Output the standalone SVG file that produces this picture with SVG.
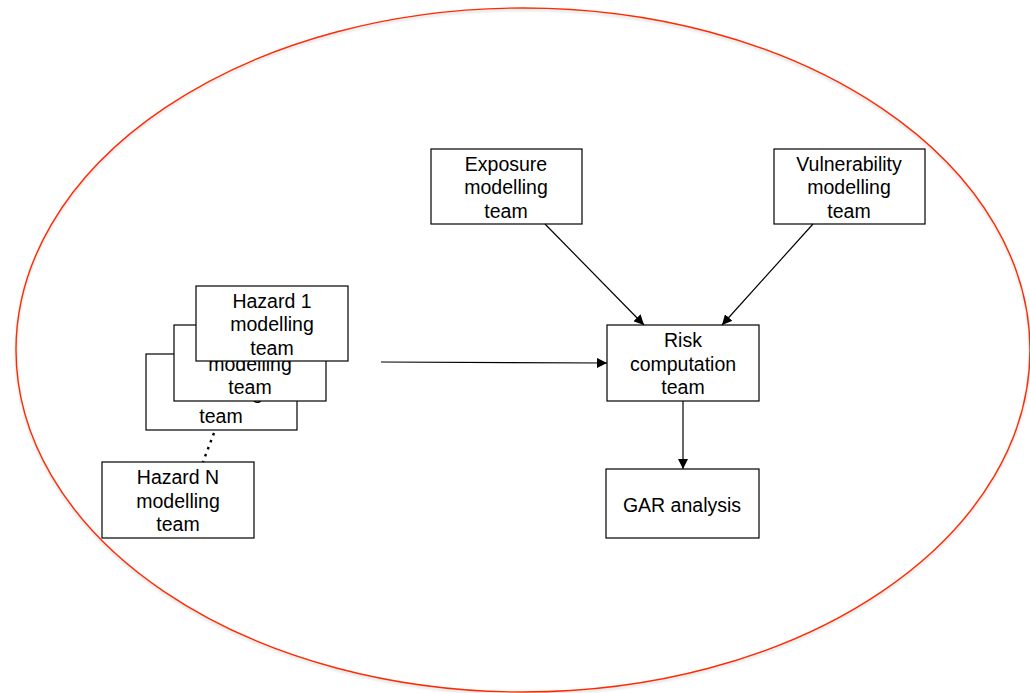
<svg xmlns="http://www.w3.org/2000/svg" width="1030" height="693" viewBox="0 0 1030 693">
  <defs>
    <marker id="arrow" viewBox="0 0 10 10" refX="10" refY="5" markerWidth="10" markerHeight="10" markerUnits="userSpaceOnUse" orient="auto">
      <path d="M0,0 L10,5 L0,10 Z" fill="#000"/>
    </marker>
    <filter id="soft" x="-5%" y="-5%" width="110%" height="110%">
      <feGaussianBlur stdDeviation="1.2"/>
    </filter>
    <style>
      .box { fill: #fff; stroke: #000; stroke-width: 1.2; }
      .lbl { font-family: "Liberation Sans", Arial, sans-serif; font-size: 19.5px; fill: #000; text-anchor: middle; }
      .edge { fill: none; stroke: #000; stroke-width: 1.2; marker-end: url(#arrow); }
      .dots { fill: none; stroke: #000; stroke-width: 2.4; stroke-dasharray: 2.5 5; }
    </style>
  </defs>

  <rect width="1030" height="693" fill="#fff"/>

  <!-- boundary ellipse with faint shadow -->
  <ellipse cx="523" cy="352" rx="507" ry="342" fill="none" stroke="#000" stroke-opacity="0.12" stroke-width="2" filter="url(#soft)"/>
  <ellipse cx="523" cy="350" rx="507" ry="342" fill="none" stroke="#ff2a00" stroke-width="1.4"/>

  <!-- stacked hazard boxes (back to front) -->
  <g id="hazard3">
    <rect class="box" x="146" y="354" width="151" height="76"/>
    <text class="lbl" x="221" y="376">Hazard 3</text>
    <text class="lbl" x="221" y="399">modelling</text>
    <text class="lbl" x="221" y="423">team</text>
  </g>
  <g id="hazard2">
    <rect class="box" x="174" y="325" width="152" height="76"/>
    <text class="lbl" x="250" y="347">Hazard 2</text>
    <text class="lbl" x="250" y="371">modelling</text>
    <text class="lbl" x="250" y="394">team</text>
  </g>
  <g id="hazard1">
    <rect class="box" x="196" y="286" width="152" height="75"/>
    <text class="lbl" x="272" y="308">Hazard 1</text>
    <text class="lbl" x="272" y="331">modelling</text>
    <text class="lbl" x="272" y="355">team</text>
  </g>
  <g id="hazardN">
    <rect class="box" x="102" y="462" width="152" height="76"/>
    <text class="lbl" x="178" y="484">Hazard N</text>
    <text class="lbl" x="178" y="508">modelling</text>
    <text class="lbl" x="178" y="531">team</text>
  </g>

  <g id="exposure">
    <rect class="box" x="431" y="149" width="151" height="75"/>
    <text class="lbl" x="506" y="171">Exposure</text>
    <text class="lbl" x="506" y="194">modelling</text>
    <text class="lbl" x="506" y="218">team</text>
  </g>
  <g id="vulnerability">
    <rect class="box" x="774" y="149" width="151" height="75"/>
    <text class="lbl" x="849" y="171">Vulnerability</text>
    <text class="lbl" x="849" y="194">modelling</text>
    <text class="lbl" x="849" y="218">team</text>
  </g>
  <g id="risk">
    <rect class="box" x="607" y="325" width="152" height="76"/>
    <text class="lbl" x="683" y="347">Risk</text>
    <text class="lbl" x="683" y="371">computation</text>
    <text class="lbl" x="683" y="394">team</text>
  </g>
  <g id="gar">
    <rect class="box" x="606" y="469" width="153" height="69"/>
    <text class="lbl" x="682" y="512">GAR analysis</text>
  </g>

  <!-- connectors -->
  <g id="connectors">
    <path class="edge" d="M381,362 L607,363"/>
    <path class="edge" d="M545,224 L644,325"/>
    <path class="edge" d="M813,224 L722,325"/>
    <path class="edge" d="M683,401 L683,469"/>
    <path class="dots" d="M214,433 L203,462"/>
  </g>
</svg>
